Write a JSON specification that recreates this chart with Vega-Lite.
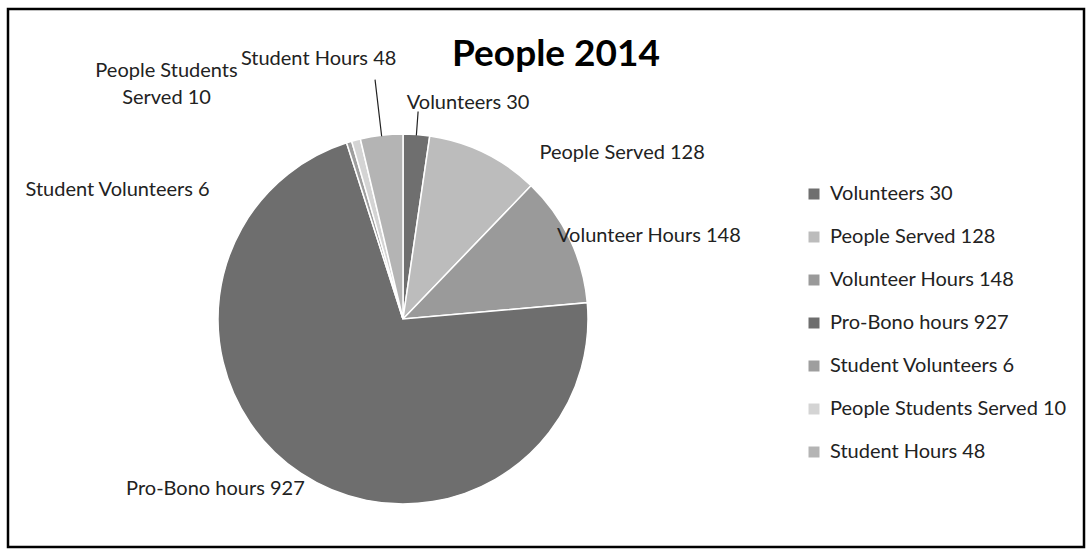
{
  "$schema": "https://vega.github.io/schema/vega-lite/v6.json",
  "width": 1076,
  "height": 538,
  "autosize": {"type": "none"},
  "padding": {"left": 8, "top": 9, "right": 8, "bottom": 8},
  "background": "white",
  "view": {"stroke": "#000000", "strokeWidth": 2.5},
  "config": {
    "view": {"stroke": "#000000", "strokeWidth": 2.5},
    "font": "Lato",
    "legend": {
      "orient": "none",
      "legendX": 796,
      "legendY": 175,
      "padding": 0,
      "symbolType": "square",
      "symbolSize": 121,
      "symbolStrokeWidth": 0,
      "labelFont": "Lato",
      "labelFontSize": 20,
      "labelColor": "#222222",
      "labelLimit": 320,
      "rowPadding": 23,
      "labelOffset": 6
    }
  },
  "title": {
    "text": "People 2014",
    "font": "Lato",
    "fontSize": 37,
    "fontWeight": "bold",
    "color": "#000000",
    "anchor": "middle",
    "baseline": "alphabetic",
    "dx": 10,
    "offset": -94
  },
  "data": {
    "values": [
      {"cat": "Volunteers 30", "value": 30, "order": 1},
      {"cat": "People Served 128", "value": 128, "order": 2},
      {"cat": "Volunteer Hours 148", "value": 148, "order": 3},
      {"cat": "Pro-Bono hours 927", "value": 927, "order": 4},
      {"cat": "Student Volunteers 6", "value": 6, "order": 5},
      {"cat": "People Students Served 10", "value": 10, "order": 6},
      {"cat": "Student Hours 48", "value": 48, "order": 7}
    ]
  },
  "transform": [
    {"window": [{"op": "sum", "field": "value", "as": "cum"}], "sort": [{"field": "order"}], "frame": [null, 0]},
    {"calculate": "datum.cum - datum.value", "as": "cum0"},
    {"calculate": "datum.cum - datum.value / 2", "as": "mid"},
    {"calculate": "replace(datum.cat, 'Students ', 'Students\\n')", "as": "lbl"}
  ],
  "layer": [
    {
      "mark": {"type": "arc", "x": 395, "y": 310, "outerRadius": 185, "stroke": "#ffffff", "strokeWidth": 1.5},
      "encoding": {
        "theta": {"field": "cum0", "type": "quantitative", "stack": null, "scale": {"domain": [0, 1297], "nice": false, "zero": true}},
        "theta2": {"field": "cum"},
        "color": {
          "field": "cat",
          "type": "nominal",
          "title": null,
          "scale": {
            "domain": ["Volunteers 30", "People Served 128", "Volunteer Hours 148", "Pro-Bono hours 927", "Student Volunteers 6", "People Students Served 10", "Student Hours 48"],
            "range": ["#6f6f6f", "#bcbcbc", "#9a9a9a", "#6e6e6e", "#9e9e9e", "#d4d4d4", "#b4b4b4"]
          }
        }
      }
    },
    {
      "transform": [{"filter": "datum.cat === 'Volunteers 30'"}],
      "mark": {"type": "arc", "x": 395, "y": 310, "innerRadius": 184, "outerRadius": 208, "stroke": "#222222", "strokeWidth": 1.2, "fillOpacity": 0},
      "encoding": {"theta": {"field": "mid", "type": "quantitative", "stack": null, "scale": {"domain": [0, 1297], "nice": false}}, "theta2": {"field": "mid"}}
    },
    {
      "transform": [{"filter": "datum.cat === 'Student Hours 48'"}],
      "mark": {"type": "arc", "x": 395, "y": 310, "innerRadius": 184, "outerRadius": 241, "stroke": "#222222", "strokeWidth": 1.2, "fillOpacity": 0},
      "encoding": {"theta": {"field": "mid", "type": "quantitative", "stack": null, "scale": {"domain": [0, 1297], "nice": false}}, "theta2": {"field": "mid"}}
    },
    {
      "transform": [{"filter": "datum.cat === 'Volunteers 30'"}],
      "mark": {"type": "text", "x": 395, "y": 310, "radius": 217, "align": "left", "baseline": "middle", "dx": -12, "dy": 0, "fontSize": 20, "color": "#222222"},
      "encoding": {"theta": {"field": "mid", "type": "quantitative", "stack": null, "scale": {"domain": [0, 1297], "nice": false}}, "text": {"field": "lbl"}}
    },
    {
      "transform": [{"filter": "datum.cat === 'People Served 128'"}],
      "mark": {"type": "text", "x": 395, "y": 310, "radius": 183, "align": "left", "baseline": "middle", "dx": 56, "dy": -2, "fontSize": 20, "color": "#222222"},
      "encoding": {"theta": {"field": "mid", "type": "quantitative", "stack": null, "scale": {"domain": [0, 1297], "nice": false}}, "text": {"field": "lbl"}}
    },
    {
      "transform": [{"filter": "datum.cat === 'Volunteer Hours 148'"}],
      "mark": {"type": "text", "x": 395, "y": 310, "radius": 183, "align": "left", "baseline": "middle", "dx": -11, "dy": -4, "fontSize": 20, "color": "#222222"},
      "encoding": {"theta": {"field": "mid", "type": "quantitative", "stack": null, "scale": {"domain": [0, 1297], "nice": false}}, "text": {"field": "lbl"}}
    },
    {
      "transform": [{"filter": "datum.cat === 'Pro-Bono hours 927'"}],
      "mark": {"type": "text", "x": 395, "y": 310, "radius": 183, "align": "right", "baseline": "middle", "dx": 3, "dy": 18, "fontSize": 20, "color": "#222222"},
      "encoding": {"theta": {"field": "mid", "type": "quantitative", "stack": null, "scale": {"domain": [0, 1297], "nice": false}}, "text": {"field": "lbl"}}
    },
    {
      "transform": [{"filter": "datum.cat === 'Student Volunteers 6'"}],
      "mark": {"type": "text", "x": 395, "y": 310, "radius": 183, "align": "right", "baseline": "middle", "dx": -140, "dy": 46, "fontSize": 20, "color": "#222222"},
      "encoding": {"theta": {"field": "mid", "type": "quantitative", "stack": null, "scale": {"domain": [0, 1297], "nice": false}}, "text": {"field": "lbl"}}
    },
    {
      "transform": [{"filter": "datum.cat === 'People Students Served 10'"}],
      "mark": {"type": "text", "x": 395, "y": 310, "radius": 183, "align": "center", "baseline": "middle", "dx": -190, "dy": -71, "fontSize": 20, "lineBreak": "\n", "lineHeight": 27, "color": "#222222"},
      "encoding": {"theta": {"field": "mid", "type": "quantitative", "stack": null, "scale": {"domain": [0, 1297], "nice": false}}, "text": {"field": "lbl"}}
    },
    {
      "transform": [{"filter": "datum.cat === 'Student Hours 48'"}],
      "mark": {"type": "text", "x": 395, "y": 310, "radius": 262, "align": "center", "baseline": "middle", "dx": -54, "dy": 0, "fontSize": 20, "color": "#222222"},
      "encoding": {"theta": {"field": "mid", "type": "quantitative", "stack": null, "scale": {"domain": [0, 1297], "nice": false}}, "text": {"field": "lbl"}}
    }
  ]
}
